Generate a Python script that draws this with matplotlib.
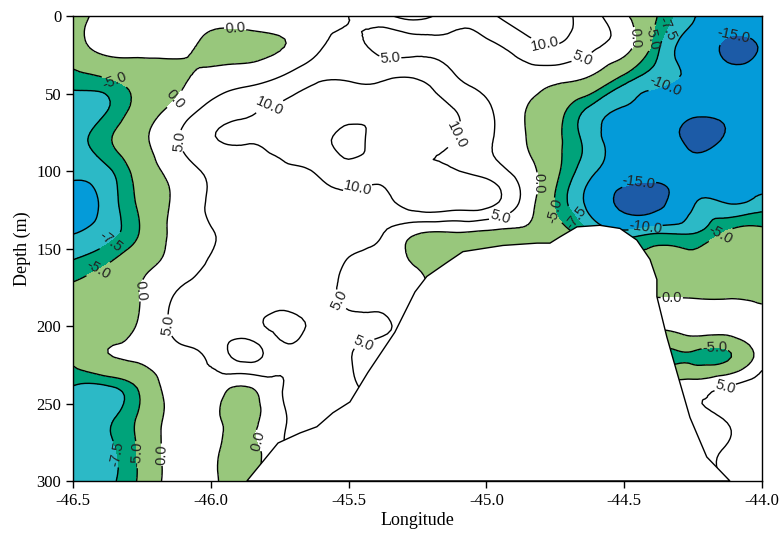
import numpy as np
import matplotlib.pyplot as plt
import matplotlib.tri as mtri
from matplotlib.path import Path

# grid of the section (longitude x depth)
lons = [-46.5, -46.375, -46.25, -46.125, -46.0, -45.875, -45.75, -45.625, -45.5, -45.375, -45.25,
        -45.125, -45.0, -44.875, -44.75, -44.625, -44.5, -44.375, -44.25, -44.125, -44.0]
depths = [0, 20, 40, 60, 80, 100, 120, 140, 160, 180, 200, 220, 240, 260, 280, 300]

anomaly = [
    [-2, 1.5, 2, 2.5, 1.5, 2.5, 3.5, 4, 5, 8.5, 12, 7, 8.5, 13, 13, 7, 1, -5.2, -9.8, -11, -11],
    [-2.2, 1.5, 1.5, 1, -1, -1.5, -0.3, 3.5, 6.5, 3.5, 4, 4, 4, 7, 9.5, 6, 2, -7.2, -11.5, -15.8, -14.6],
    [-6.3, -5, -3, -1, 1.5, 3, 5.3, 9, 9.5, 9.5, 9.8, 6, 3, 2.5, 1.5, -0.5, -6, -9, -11, -13.5, -13],
    [-8.5, -7.6, -3, 1.5, 6.5, 9, 10.8, 11.5, 11.5, 11, 11.5, 10.2, 6, 0.7, -3.3, -8, -10.2, -12, -14, -14, -13],
    [-9, -5.5, -1, 4.5, 9.5, 10.3, 11.5, 12, 9, 12, 12, 10.2, 6, 0.8, -4, -8.6, -11.5, -13, -15.7, -14.5, -13],
    [-9.3, -8, -3, 2, 6, 8, 9, 10.1, 10.8, 11, 11, 10.5, 8, 3, -4, -9.2, -12, -13, -13, -12, -12],
    [-11.5, -9, -4, 1, 5.5, 7, 8, 8.5, 8.5, 8.5, 13, 13, 12, 4.5, -5.2, -11, -16.5, -16.5, -10.3, -10.2, -9],
    [-10.1, -8.5, -4.5, 1.5, 4.8, 6.5, 7.5, 7.5, 6.5, 5.1, 0.3, -0.3, -1, -1, -3, -7, -9, -7.6, -7.6, -4.5, -4],
    [-7, -5, -1.5, 2, 5.5, 7, 7.5, 7, 4.7, 3, -0.5, -2, -2, -2, -2, -4, -4, -4, -3.5, -3, -2.5],
    [-4, -3, 0.3, 5.3, 7, 7.5, 6.5, 6, 4.5, 3.5, 1, -2, -2, -2, -2, -2, -2, -0.5, -0.8, -1, -1.5],
    [-3, -2.5, 1, 6, 7, 7, 4, 5.5, 5.5, 5.5, 2, -2, -2, -2, -2, 1, 1, 1, 3, 3, 3],
    [-4, -0.3, 1, 3.5, 6, 11.5, 6.5, 6.5, 5.3, 3, 2, -2, -2, -2, -2, -3, -3, -5.8, -5.8, -5.6, 3],
    [-7.7, -8, -4, 2.5, 3, -0.5, 4.5, 6.5, 6, 3, 2, -2, -2, -2, -2, 3, 3, 3, 3, 5.5, 8],
    [-8.5, -8, -4, 2.5, 2, -2, 4, 6, 6, 3, 2, -2, -2, -2, -2, 3, 3, 3, 3, 5.5, 8],
    [-8.5, -8, -4, 2.5, 1.5, -2, 4, 6, 6, 3, 2, -2, -2, -2, -2, 3, 3, 3, 3, 5.5, 8],
    [-8.5, -8, -4, 2.5, 1.5, -2, 4, 6, 6, 3, 2, -2, -2, -2, -2, 3, 3, 3, 3, 5.5, 8],
]

# bottom topography (seamount outline)
seamount_lon = [-45.869, -45.756, -45.676, -45.615, -45.557, -45.495, -45.430, -45.332, -45.259,
                -45.216, -45.143, -45.085, -44.940, -44.816, -44.769, -44.733, -44.671, -44.588,
                -44.515, -44.454, -44.406, -44.381, -44.381, -44.345, -44.308, -44.261, -44.200,
                -44.116]
seamount_depth = [300, 275.5, 269, 265, 256, 249, 230, 204, 178, 168, 159, 152, 148, 146.5, 146.5,
                  142.5, 136, 135, 137, 144.5, 157, 170, 181, 207, 230, 259, 284.5, 300]

fill_levels = [-40, -15, -10, -7.5, -5, 0, 40]
fill_colors = ['#1c5ba7', '#049bd9', '#2cb9c6', '#00a37a', '#98c77c', 'white']
line_levels = [-15, -10, -7.5, -5, 0, 5, 10]

# where the contour labels sit (lon, depth)
label_spots = [(-45.912, 9), (-46.348, 41), (-46.141, 52), (-45.785, 59), (-46.101, 80),
               (-45.470, 109), (-45.132, 75), (-45.35, 30), (-44.787, 17), (-44.65, 28),
               (-44.95, 130), (-44.806, 108), (-44.479, 14), (-44.399, 14), (-44.334, 9),
               (-44.098, 19), (-44.345, 48), (-44.443, 114), (-44.425, 133), (-44.733, 125),
               (-44.66, 128), (-44.134, 146), (-44.327, 184), (-44.17, 215), (-44.123, 248),
               (-46.36, 146), (-46.40, 166), (-46.257, 177), (-46.177, 200), (-45.531, 183),
               (-45.43, 219), (-46.355, 283), (-46.268, 283), (-46.184, 283), (-45.814, 273)]

plt.rcParams['font.family'] = ['Liberation Serif', 'DejaVu Serif']

fig = plt.figure(figsize=(7.81, 5.38), dpi=100)
ax = fig.add_axes([0.0935, 0.106, 0.882, 0.864])

# smooth the gridded field with matplotlib's cubic tri refiner
X, Y = np.meshgrid(lons, depths)
Z = np.array(anomaly, dtype=float)
scale = 160.0
tri = mtri.Triangulation(X.ravel(), Y.ravel() / scale)
refiner = mtri.UniformTriRefiner(tri)
tri_f, z_f = refiner.refine_field(Z.ravel(), subdiv=3)
tri_f = mtri.Triangulation(tri_f.x, tri_f.y * scale, tri_f.triangles)

ax.tricontourf(tri_f, z_f, levels=fill_levels, colors=fill_colors)
cs = ax.tricontour(tri_f, z_f, levels=line_levels, colors='black', linewidths=1.0, linestyles='solid')
labels = ax.clabel(cs, fmt='%.1f', fontsize=10.5, inline=True, inline_spacing=2, manual=label_spots)

ax.fill(seamount_lon, seamount_depth, facecolor='white', edgecolor='black', lw=1.0, zorder=4)

# drop labels hidden under the seamount
mount = Path(np.column_stack([seamount_lon, seamount_depth]))
for t in labels:
    t.set_fontfamily('Liberation Sans')
    t.set_color('#222222')
    if mount.contains_point(t.get_position()):
        t.remove()

ax.set_xlim(-46.5, -44.0)
ax.set_ylim(300, 0)
ax.set_xticks([-46.5, -46.0, -45.5, -45.0, -44.5, -44.0])
ax.set_xticklabels(['-46.5', '-46.0', '-45.5', '-45.0', '-44.5', '-44.0'])
ax.set_yticks([0, 50, 100, 150, 200, 250, 300])
ax.tick_params(direction='out', length=5, width=1, labelsize=12, top=False, right=False)
for s in ax.spines.values():
    s.set_linewidth(1.0)
    s.set_zorder(5)
ax.set_xlabel('Longitude', fontsize=13, labelpad=2)
ax.set_ylabel('Depth (m)', fontsize=13, labelpad=4)

plt.savefig('out.png', dpi=100)
